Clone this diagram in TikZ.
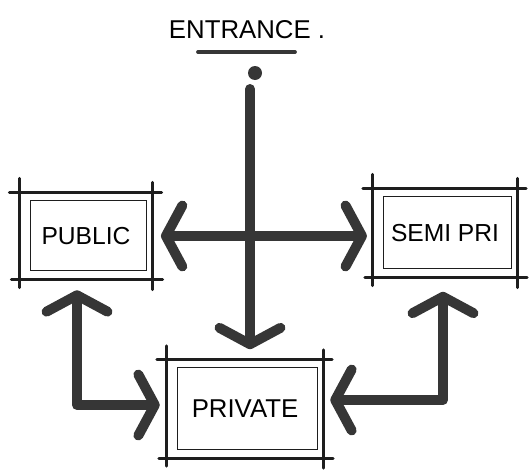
\documentclass[tikz,border=0pt]{standalone}
\usepackage{fontspec}
\setmainfont{Liberation Sans}
\usetikzlibrary{arrows.meta,calc,positioning}
\definecolor{sketchink}{HTML}{363636}
\definecolor{boxink}{HTML}{1E1E1E}

\begin{document}
\begin{tikzpicture}[x=0.03cm,y=-0.03cm,
  >={Straight Barb[length=14pt,width=52pt,round]},
  flow/.style={line width=8.5pt,sketchink,line cap=round,line join=round},
  room/.style={inner sep=0pt,font=\fontsize{21}{24}\selectfont},
  edge/.style={boxink,line width=2.4pt,line cap=round},
  inner/.style={boxink,line width=0.9pt}]
  \useasboundingbox (0,0) rectangle (531,472);

  % heading
  \node[font=\fontsize{22}{26}\selectfont] (ent) at (247,30) {ENTRANCE .};
  \coordinate (ulL) at (198,52);
  \coordinate (ulR) at (295,52);
  \draw[line width=3.2pt,sketchink,line cap=round] (ulL) -- (ulR);
  \fill[sketchink] (255,73) circle[radius=2.1mm];
  \coordinate (stem) at (250,89);

  % rooms
  \node[room,minimum width=3.99cm,minimum height=2.61cm] (pub) at (86,236) {PUBLIC};
  \node[room,minimum width=4.32cm,minimum height=2.67cm] (semi) at (445,233) {SEMI PRI};
  \node[room,minimum width=4.68cm,minimum height=2.94cm,font=\fontsize{22}{26}\selectfont] (pri) at (245,409) {PRIVATE};

  \foreach \n in {pub,semi,pri}{
    \draw[inner] ($(\n.north west)+(11,8)$) rectangle ($(\n.south east)+(-6,-9)$);
    \draw[edge] ($(\n.north west)+(-10,0)$) -- ($(\n.north east)+(9,0)$);
    \draw[edge] ($(\n.south west)+(-8,0)$) -- ($(\n.south east)+(10,0)$);
    \draw[edge] ($(\n.north west)+(0,-14)$) -- ($(\n.south west)+(0,8)$);
    \draw[edge] ($(\n.north east)+(0,-10)$) -- ($(\n.south east)+(0,10)$);
  }

  % circulation
  \draw[flow,->,shorten >=9pt] (stem) -- (stem |- pri.north);
  \draw[flow,<->,shorten <=7pt,shorten >=5pt] (pub.east) -- (pub.east -| semi.west);
  \draw[flow,<->,shorten <=9pt,shorten >=6pt] ($(pub.south)+(-9,0)$) |- ($(pri.west)+(0,-4)$);
  \draw[flow,<->,shorten <=12pt,shorten >=6pt] ($(semi.south)+(-2,0)$) |- ($(pri.east)+(0,-9)$);
\end{tikzpicture}
\end{document}
